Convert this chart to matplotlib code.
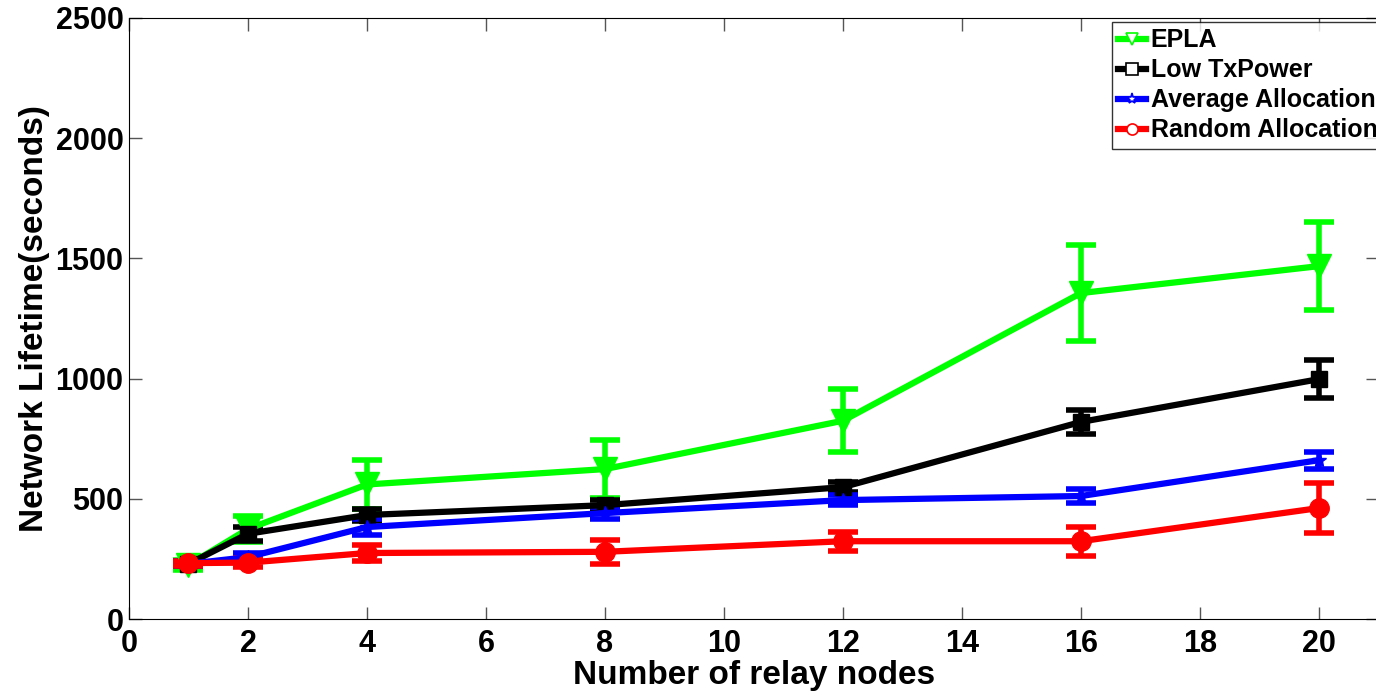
import matplotlib
matplotlib.use("Agg")
import matplotlib.pyplot as plt
from matplotlib.lines import Line2D

relay_nodes = [1, 2, 4, 8, 12, 16, 20]

epla = [225, 375, 560, 624, 825, 1356, 1468]
epla_err = [20, 55, 100, 120, 130, 200, 183]

low_tx = [230, 355, 433, 474, 549, 820, 998]
low_tx_err = [10, 30, 25, 20, 20, 50, 80]

avg_alloc = [230, 258, 383, 441, 495, 512, 661]
avg_alloc_err = [10, 15, 35, 25, 20, 30, 35]

rand_alloc = [233, 235, 275, 280, 324, 324, 462]
rand_alloc_err = [10, 20, 35, 50, 40, 60, 105]

series = [
    ("EPLA", epla, epla_err, "#00ff00", "v", 17),
    ("Low TxPower", low_tx, low_tx_err, "black", "s", 11),
    ("Average Allocation", avg_alloc, avg_alloc_err, "blue", "*", 10),
    ("Random Allocation", rand_alloc, rand_alloc_err, "red", "o", 14),
]

plt.rcParams["font.family"] = ["Liberation Sans", "DejaVu Sans"]
plt.rcParams["font.weight"] = "bold"

fig = plt.figure(figsize=(13.76, 6.91), dpi=100)
ax = fig.add_axes([0.09375, 0.104, 0.908, 0.870])

handles = []
for label, y, err, color, marker, ms in series:
    ax.errorbar(relay_nodes, y, yerr=err, color=color, marker=marker,
                markersize=ms, linewidth=4.5, elinewidth=4, capsize=11,
                capthick=4)
    handles.append(Line2D([], [], color=color, linewidth=4.5, marker=marker,
                          markersize=8, markerfacecolor="white",
                          markeredgecolor=color, markeredgewidth=1.2,
                          label=label))

ax.set_xlim(0, 21)
ax.set_ylim(0, 2500)
ax.set_xticks(range(0, 21, 2))
ax.set_yticks(range(0, 2501, 500))
ax.tick_params(direction="in", top=True, right=True, labelsize=22, length=9,
               width=1, color="#555555")
ax.tick_params(axis="x", pad=7)
ax.tick_params(axis="y", pad=4)
for lbl in ax.get_xticklabels() + ax.get_yticklabels():
    lbl.set_fontweight("bold")

ax.set_xlabel("Number of relay nodes", fontsize=24, fontweight="bold", labelpad=1)
ax.set_ylabel("Network Lifetime(seconds)", fontsize=24, fontweight="bold", labelpad=4)

leg = fig.legend(handles=handles, loc="upper left", bbox_to_anchor=(0.808, 0.968),
                 fontsize=18, frameon=True, fancybox=False, edgecolor="black",
                 handlelength=1.1, handletextpad=0.2, borderpad=0.25,
                 labelspacing=0.24, borderaxespad=0)
leg.get_frame().set_linewidth(1.0)
for t in leg.get_texts():
    t.set_fontweight("bold")

fig.savefig("out.png", dpi=100)
